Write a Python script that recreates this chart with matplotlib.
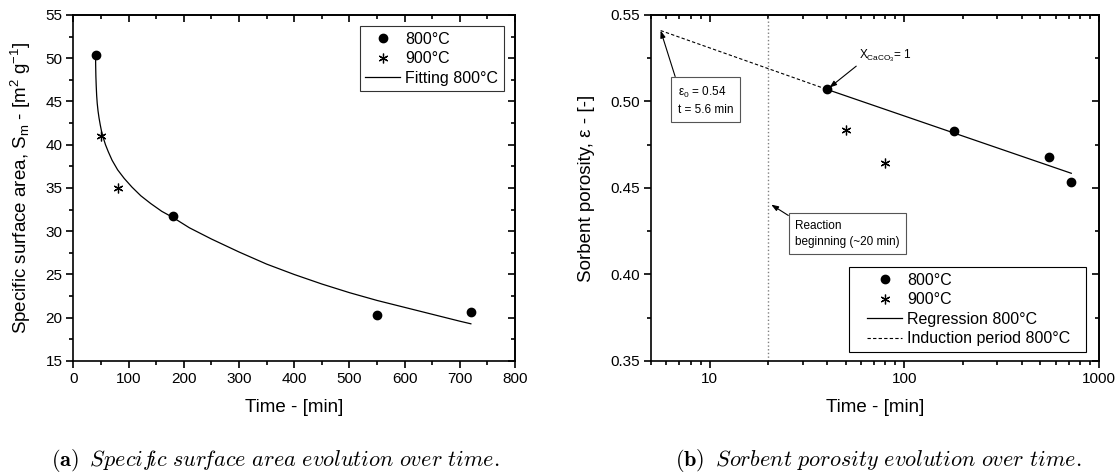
import matplotlib
matplotlib.use('Agg')
import matplotlib.pyplot as plt
from matplotlib.patches import Rectangle
from matplotlib.ticker import MultipleLocator, FixedLocator, FixedFormatter, NullFormatter, LogLocator

plt.rcParams['font.family'] = ['Liberation Sans', 'DejaVu Sans']
plt.rcParams['mathtext.fontset'] = 'custom'
plt.rcParams['mathtext.rm'] = 'Liberation Sans'
plt.rcParams['mathtext.it'] = 'Liberation Sans:italic'
plt.rcParams['mathtext.bf'] = 'Liberation Sans:bold'

# ---- data (a): specific surface area
t_800 = [40, 180, 550, 720]
s_800 = [50.4, 31.8, 20.3, 20.7]
t_900 = [50, 80]
s_900 = [41.0, 35.0]
# fitted curve, points
t_fit = [40, 40.2, 40.6, 41.2, 42, 43, 44.5, 46.3, 48.5, 51, 54, 58, 63, 70, 80, 92,
         106, 122, 140, 160, 180, 210, 250, 300, 350, 400, 450, 500, 550, 600, 650,
         700, 720]
s_fit = [50.4, 49.2, 47.9, 46.8, 45.7, 44.8, 43.9, 43.1, 42.3, 41.5, 40.8, 40.0, 39.2,
         38.2, 37.1, 36.1, 35.1, 34.1, 33.2, 32.3, 31.6, 30.4, 29.1, 27.6, 26.2, 25.0,
         23.9, 22.9, 22.0, 21.2, 20.4, 19.6, 19.3]

# ---- data (b): sorbent porosity
p_t_800 = [40, 180, 550, 720]
p_800 = [0.507, 0.483, 0.468, 0.4535]
p_t_900 = [50, 80]
p_900 = [0.4835, 0.4642]
reg_t = [40, 720]
reg_p = [0.507, 0.4585]
ind_t = [5.6, 40]
ind_p = [0.541, 0.507]
t_reaction = 20

fig = plt.figure(figsize=(11.15, 4.74), dpi=100)
ax1 = fig.add_axes([0.0659, 0.2384, 0.3960, 0.7300])
ax2 = fig.add_axes([0.5839, 0.2384, 0.4018, 0.7300])

LW_AX = 1.2
for ax in (ax1, ax2):
    for sp in ax.spines.values():
        sp.set_linewidth(LW_AX)
    ax.tick_params(which='both', direction='out', labelsize=11, width=LW_AX,
                   top=False, right=False, pad=3)
    ax.tick_params(which='major', length=4.8)
    ax.tick_params(which='minor', length=3)

# ---------- (a)
ax1.plot(t_800, s_800, 'o', color='black', ms=6, label='800°C', zorder=3)
ax1.plot(t_900, s_900, ls='none', marker=(6, 2, 0), color='black', ms=7, mew=0.9,
         label='900°C', zorder=3)
ax1.plot(t_fit, s_fit, '-', color='black', lw=0.9, label='Fitting 800°C')
ax1.set_xlim(0, 800)
ax1.set_ylim(15, 55)
ax1.xaxis.set_major_locator(MultipleLocator(100))
ax1.xaxis.set_minor_locator(MultipleLocator(50))
ax1.yaxis.set_major_locator(MultipleLocator(5))
ax1.yaxis.set_minor_locator(MultipleLocator(2.5))
ax1.set_xlabel('Time - [min]', fontsize=13.5)
ax1.set_ylabel('Specific surface area, S$_\\mathrm{m}$ - [m$^\\mathrm{2}$ g$^\\mathrm{-1}$]',
               fontsize=13.5)
ax1.xaxis.set_label_coords(0.5, -0.133)
ax1.xaxis.label.set_va('center')
ax1.yaxis.set_label_coords(-0.118, 0.5)
ax1.yaxis.label.set_va('center')
leg1 = ax1.legend(loc='upper right', fontsize=11.5, frameon=True, fancybox=False,
                  edgecolor='black', borderaxespad=0.7, handlelength=2.2,
                  handletextpad=0.3, labelspacing=0.28, borderpad=0.35)
leg1.get_frame().set_linewidth(0.8)

# ---------- (b)
ax2.set_xscale('log')
ax2.axvline(t_reaction, color='gray', ls=':', lw=1.0)
ax2.plot(p_t_800, p_800, 'o', color='black', ms=6, label='800°C', zorder=3)
ax2.plot(p_t_900, p_900, ls='none', marker=(6, 2, 0), color='black', ms=7, mew=0.9,
         label='900°C', zorder=3)
ax2.plot(reg_t, reg_p, '-', color='black', lw=0.9, label='Regression 800°C')
ax2.plot(ind_t, ind_p, '--', color='black', lw=0.8, dashes=(3, 2),
         label='Induction period 800°C')
ax2.set_xlim(5, 1000)
ax2.set_ylim(0.35, 0.55)
ax2.xaxis.set_major_locator(FixedLocator([10, 100, 1000]))
ax2.xaxis.set_major_formatter(FixedFormatter(['10', '100', '1000']))
ax2.xaxis.set_minor_locator(LogLocator(base=10, subs=range(2, 10)))
ax2.xaxis.set_minor_formatter(NullFormatter())
ax2.yaxis.set_major_locator(MultipleLocator(0.05))
ax2.yaxis.set_minor_locator(MultipleLocator(0.025))
ax2.yaxis.set_major_formatter(plt.FormatStrFormatter('%.2f'))
ax2.set_xlabel('Time - [min]', fontsize=13.5)
ax2.set_ylabel('Sorbent porosity, ε - [-]', fontsize=13.5)
ax2.xaxis.set_label_coords(0.5, -0.133)
ax2.xaxis.label.set_va('center')
ax2.yaxis.set_label_coords(-0.143, 0.5)
ax2.yaxis.label.set_va('center')
# legend with a wider hand-drawn frame (Origin style padding)
ax2.add_patch(Rectangle((0.442, 0.026), 0.529, 0.246, transform=ax2.transAxes,
                        fc='white', ec='black', lw=0.8, zorder=4))
leg2 = ax2.legend(loc='upper left', bbox_to_anchor=(0.482, 0.255), fontsize=11.5,
                  frameon=False, borderaxespad=0, borderpad=0, handlelength=2.2,
                  handletextpad=0.3, labelspacing=0.28)
leg2.set_zorder(5)

arrow = dict(arrowstyle='-|>,head_length=0.5,head_width=0.18', color='black', lw=0.8,
             shrinkA=0, shrinkB=0)
box = dict(boxstyle='square,pad=0.55', fc='white', ec='#555555', lw=0.8)

ax2.annotate('ε$_\\mathrm{0}$ = 0.54\nt = 5.6 min', xy=(5.6, 0.541), xytext=(6.85, 0.5008),
             fontsize=8.5, va='center', ha='left', linespacing=1.45, bbox=box,
             arrowprops=dict(arrow, relpos=(0.0, 1.0)))
ax2.annotate('X$_\\mathrm{CaCO_3}$= 1', xy=(41.2, 0.508), xytext=(58.5, 0.5265),
             fontsize=8.5, va='center', ha='left',
             arrowprops=dict(arrow, relpos=(0.0, 0.0)))
ax2.annotate('Reaction\nbeginning (~20 min)', xy=(20.7, 0.4404), xytext=(27.5, 0.4235),
             fontsize=8.5, va='center', ha='left', linespacing=1.45, bbox=box,
             arrowprops=dict(arrow, relpos=(0.0, 1.0)))

# mirrored top/right axes with inward ticks
for ax in (ax1, ax2):
    top = ax.secondary_xaxis('top')
    right = ax.secondary_yaxis('right')
    for sec in (top, right):
        sec.tick_params(which='both', direction='in', width=LW_AX, labelsize=0)
        sec.tick_params(which='major', length=4.8)
        sec.tick_params(which='minor', length=3)
    top.set_xticks(ax.get_xticks(minor=False))
    top.set_xticks(ax.get_xticks(minor=True), minor=True)
    top.set_xticklabels([])
    top.xaxis.set_minor_formatter(NullFormatter())
    right.set_yticks(ax.get_yticks(minor=False))
    right.set_yticks(ax.get_yticks(minor=True), minor=True)
    right.set_yticklabels([])
    for sp in top.spines.values():
        sp.set_linewidth(LW_AX)
    for sp in right.spines.values():
        sp.set_linewidth(LW_AX)

# captions
fig.text(0.247, 0.017,
         r'$\mathbf{(a)}\;\;\mathit{Specif\hspace{-0.22}ic\ sur\!face\ area\ evolution\ over\ time.}$',
         fontsize=16, ha='center', va='baseline', math_fontfamily='cm')
fig.text(0.788, 0.017, r'$\mathbf{(b)}\;\;\mathit{Sorbent\ porosity\ evolution\ over\ time.}$',
         fontsize=16, ha='center', va='baseline', math_fontfamily='cm')

fig.savefig('out.png', dpi=100)
